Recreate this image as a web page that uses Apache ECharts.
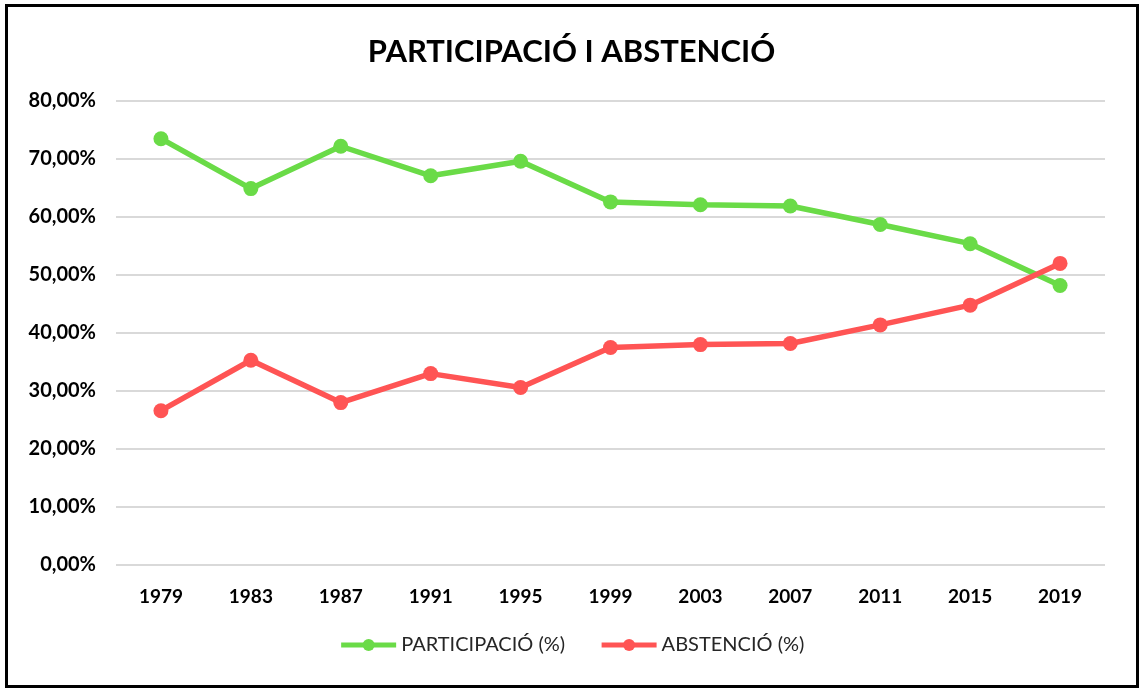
<!DOCTYPE html>
<html>
<head>
<meta charset="utf-8">
<script src="https://cdn.jsdelivr.net/npm/echarts@6/dist/echarts.min.js"></script>
<style>
	html, body { margin: 0; padding: 0; background: #fff; }
	#frame {
		position: absolute; left: 5px; top: 4px;
		width: 1128px; height: 678px;
		border: 3px solid #000;
	}
	#myChart { position: absolute; left: -8px; top: -7px; width: 1143px; height: 693px; }
</style>
</head>
<body>
<div id="frame"><div id="myChart"></div></div>
<script>
	var years = ['1979', '1983', '1987', '1991', '1995', '1999', '2003', '2007', '2011', '2015', '2019'];
	var participacio = [73.5, 64.9, 72.2, 67.1, 69.6, 62.6, 62.1, 61.9, 58.7, 55.4, 48.2];
	var abstencio = [26.6, 35.3, 28.0, 33.0, 30.6, 37.5, 38.0, 38.2, 41.4, 44.8, 52.0];
	var seriesNames = ['PARTICIPACIÓ (%)', 'ABSTENCIÓ (%)'];
	var colors = ['#6ADB47', '#FF5454'];

	var myChart = echarts.init(document.getElementById('myChart'));

	function lineSeries(name, data, color) {
		return {
			name: name,
			type: 'line',
			data: data,
			symbol: 'circle',
			symbolSize: 15,
			lineStyle: { width: 5.5, color: color },
			itemStyle: { color: color },
			emphasis: { disabled: true }
		};
	}

	var option = {
		animation: false,
		title: {
			text: 'PARTICIPACIÓ I ABSTENCIÓ',
			left: 'center',
			top: 31,
			textStyle: { fontFamily: 'Lato', fontWeight: 'bold', fontSize: 31, color: '#000' }
		},
		legend: {
			data: seriesNames,
			bottom: 33,
			left: 'center',
			itemWidth: 55,
			itemHeight: 15,
			itemGap: 34,
			lineStyle: { width: 5 },
			textStyle: { fontFamily: 'Lato', fontSize: 20, color: '#262626' }
		},
		grid: { left: 116, right: 38, top: 101, bottom: 128 },
		xAxis: {
			type: 'category',
			data: years,
			axisLine: { show: false },
			axisTick: { show: false },
			axisLabel: { margin: 22, fontFamily: 'Lato', fontWeight: 'bold', fontSize: 19, color: '#000' }
		},
		yAxis: {
			type: 'value',
			min: 0,
			max: 80,
			interval: 10,
			axisLabel: {
				margin: 20,
				fontFamily: 'Lato', fontWeight: 'bold', fontSize: 20, color: '#000',
				formatter: function (v) { return v.toFixed(2).replace('.', ',') + '%'; }
			},
			splitLine: { lineStyle: { color: '#d9d9d9', width: 2 } }
		},
		series: [
			lineSeries(seriesNames[0], participacio, colors[0]),
			lineSeries(seriesNames[1], abstencio, colors[1])
		]
	};

	myChart.setOption(option);
</script>
</body>
</html>
